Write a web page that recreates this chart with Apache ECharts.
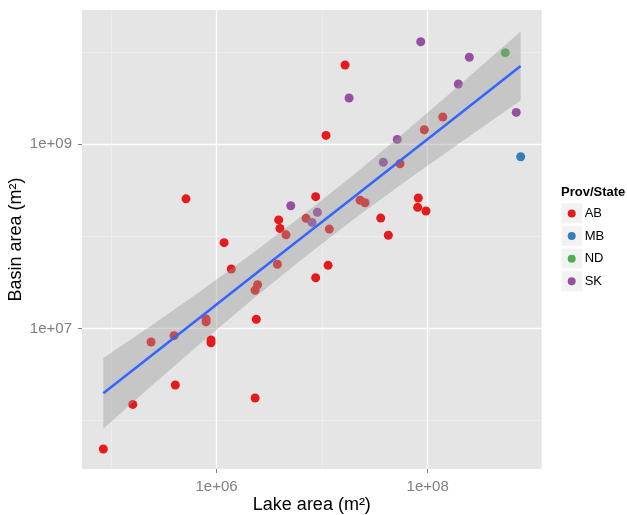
<!DOCTYPE html>
<html>
<head>
<meta charset="utf-8">
<script src="https://cdn.jsdelivr.net/npm/echarts@6/dist/echarts.min.js"></script>
<style>
  html, body { margin: 0; padding: 0; background: #fff; }
  #main { width: 627px; height: 515px; }
</style>
</head>
<body>
<div id="main"></div>
<script>
// Lake area / basin area (m²)
const abLake  = [5.14e5, 8.69e6, 3.88e6, 3.99e6, 4.55e6, 7.05e6, 1.18e6, 1.65e7, 1.09e7, 1.39e8,
                 9.29e7, 5.47e7, 2.29e7, 2.55e7, 8.15e7, 8.04e7, 9.64e7, 3.59e7, 1.17e7, 4.24e7,
                 1.38e6, 3.77e6, 1.14e7, 8.69e6, 2.45e6, 2.32e6, 2.38e6, 7.96e5, 7.96e5, 3.96e5,
                 2.40e5, 8.87e5, 8.87e5, 4.07e5, 1.61e5, 2.32e6, 8.47e4];
const abBasin = [2.56e8, 2.70e8, 1.51e8, 1.22e8, 1.04e8, 1.57e8, 8.55e7, 7.26e9, 1.25e9, 1.98e9,
                 1.44e9, 6.15e8, 2.47e8, 2.32e8, 2.61e8, 2.07e8, 1.89e8, 1.58e8, 1.20e8, 1.03e8,
                 4.43e7, 4.98e7, 4.85e7, 3.56e7, 2.99e7, 2.60e7, 1.26e7, 1.27e7, 1.18e7, 8.36e6,
                 7.13e6, 7.50e6, 7.01e6, 2.44e6, 1.50e6, 1.76e6, 4.92e5];
const mbLake  = [7.60e8];
const mbBasin = [7.33e8];
const ndLake  = [5.43e8];
const ndBasin = [9.89e9];
const skLake  = [5.05e6, 9.02e6, 8.02e6, 8.59e7, 2.48e8, 1.95e8, 1.80e7, 6.90e8, 5.15e7, 3.80e7];
const skBasin = [2.15e8, 1.83e8, 1.42e8, 1.30e10, 8.81e9, 4.52e9, 3.18e9, 2.22e9, 1.13e9, 6.38e8];

// linear fit (log-log) with its confidence band
const fitX    = [8.47e4, 2.34e5, 6.98e5, 2.07e6, 6.18e6, 1.84e7, 5.47e7, 1.63e8, 7.60e8];
const fitY    = [1.98e6, 4.93e6, 1.32e7, 3.51e7, 9.35e7, 2.49e8, 6.64e8, 1.77e9, 7.08e9];
const fitLow  = [8.15e5, 2.31e6, 6.84e6, 1.97e7, 5.43e7, 1.43e8, 3.60e8, 8.75e8, 2.99e9];
const fitHigh = [4.80e6, 1.05e7, 2.53e7, 6.25e7, 1.61e8, 4.34e8, 1.22e9, 3.58e9, 1.68e10];

const xMajor = [1e6, 1e8];
const xMinor = [1e5, 1e7];
const yMajor = [1e7, 1e9];
const yMinor = [1e6, 1e8, 1e10];

const groups = ['AB', 'MB', 'ND', 'SK'];
const colors = ['#E41A1C', '#377EB8', '#4DAF4A', '#984EA3'];

const FONT = 'Liberation Sans, Arial, Helvetica, sans-serif';

const pairs = (xs, ys) => xs.map((x, i) => [x, ys[i]]);
const sciLabel = (v) => {
    const e = Math.round(Math.log10(v));
    return '1e+' + (e < 10 ? '0' : '') + e;
};

const chart = echarts.init(document.getElementById('main'), null, { renderer: 'canvas' });

const xRange = { min: 5.32e4, max: 1.202e9 };
const yRange = { min: 2.985e5, max: 2.871e10 };

// extra hidden axes only used for the thin minor grid lines
const minorAxis = (range, vals, pos) => ({
    type: 'log',
    logBase: 10,
    ...range,
    position: pos,
    axisLine: { show: false },
    axisTick: { show: false, customValues: vals },
    axisLabel: { show: false, customValues: vals },
    splitLine: { show: true, lineStyle: { color: '#F0F0F0', width: 0.6 } }
});

const option = {
    animation: false,
    backgroundColor: '#ffffff',
    title: {
        text: 'Prov/State',
        left: 561,
        top: 186,
        padding: 0,
        textStyle: { fontFamily: FONT, fontSize: 13, fontWeight: 'bold', color: '#000' }
    },
    legend: {
        data: groups,
        orient: 'vertical',
        left: 567.7,
        top: 206,
        padding: 0,
        itemWidth: 8,
        itemHeight: 8,
        itemGap: 7.6,
        icon: 'circle',
        textStyle: { fontFamily: FONT, fontSize: 13, color: '#000', lineHeight: 15, padding: [0, 0, 0, 4] }
    },
    graphic: [213.3, 235.9, 258.5, 281.1].map((cy) => ({
        type: 'rect',
        shape: { x: 561.5, y: cy - 10, width: 20.5, height: 20 },
        style: { fill: '#F2F2F2' },
        z: 0
    })),
    grid: {
        left: 82,
        top: 10,
        right: 85.3,
        bottom: 46,
        show: true,
        containLabel: false,
        outerBoundsMode: 'none',
        backgroundColor: '#E5E5E5',
        borderWidth: 0
    },
    xAxis: [
        {
            type: 'log',
            logBase: 10,
            ...xRange,
            name: 'Lake area (m²)',
            nameLocation: 'middle',
            nameGap: 27,
            nameMoveOverlap: false,
            nameTextStyle: { fontFamily: FONT, fontSize: 18, color: '#000' },
            axisLine: { show: false },
            axisTick: { show: true, length: 4, customValues: xMajor, lineStyle: { color: '#7F7F7F' } },
            axisLabel: {
                customValues: xMajor,
                margin: 10,
                fontFamily: FONT, fontSize: 15, color: '#7F7F7F',
                formatter: sciLabel
            },
            splitLine: { show: true, lineStyle: { color: '#FFFFFF', width: 1.3 } }
        },
        minorAxis(xRange, xMinor, 'bottom')
    ],
    yAxis: [
        {
            type: 'log',
            logBase: 10,
            ...yRange,
            name: 'Basin area (m²)',
            nameLocation: 'middle',
            nameGap: 57,
            nameMoveOverlap: false,
            nameTextStyle: { fontFamily: FONT, fontSize: 18, color: '#000' },
            axisLine: { show: false },
            axisTick: { show: true, length: 4, customValues: yMajor, lineStyle: { color: '#7F7F7F' } },
            axisLabel: {
                customValues: yMajor,
                margin: 10,
                fontFamily: FONT, fontSize: 15, color: '#7F7F7F',
                formatter: sciLabel
            },
            splitLine: { show: true, lineStyle: { color: '#FFFFFF', width: 1.3 } }
        },
        minorAxis(yRange, yMinor, 'left')
    ],
    series: [
        { name: 'AB', type: 'scatter', data: pairs(abLake, abBasin) },
        { name: 'MB', type: 'scatter', data: pairs(mbLake, mbBasin) },
        { name: 'ND', type: 'scatter', data: pairs(ndLake, ndBasin) },
        { name: 'SK', type: 'scatter', data: pairs(skLake, skBasin) }
    ].map((s, i) => Object.assign(s, {
        symbol: 'circle',
        symbolSize: 9,
        itemStyle: { color: colors[i], opacity: 1 },
        z: 2
    })).concat([
        {
            // confidence band drawn over the points, like geom_smooth
            name: 'band',
            type: 'custom',
            z: 3,
            silent: true,
            data: [0],
            renderItem: (params, api) => {
                const upper = fitX.map((x, i) => api.coord([x, fitHigh[i]]));
                const lower = fitX.map((x, i) => api.coord([x, fitLow[i]])).reverse();
                return {
                    type: 'polygon',
                    shape: { points: upper.concat(lower) },
                    style: { fill: 'rgba(153,153,153,0.4)' }
                };
            }
        },
        {
            name: 'fit',
            type: 'line',
            z: 4,
            data: pairs(fitX, fitY),
            showSymbol: false,
            lineStyle: { color: '#3366FF', width: 2.5 },
            itemStyle: { color: '#3366FF' }
        }
    ])
};

chart.setOption(option);
</script>
</body>
</html>
